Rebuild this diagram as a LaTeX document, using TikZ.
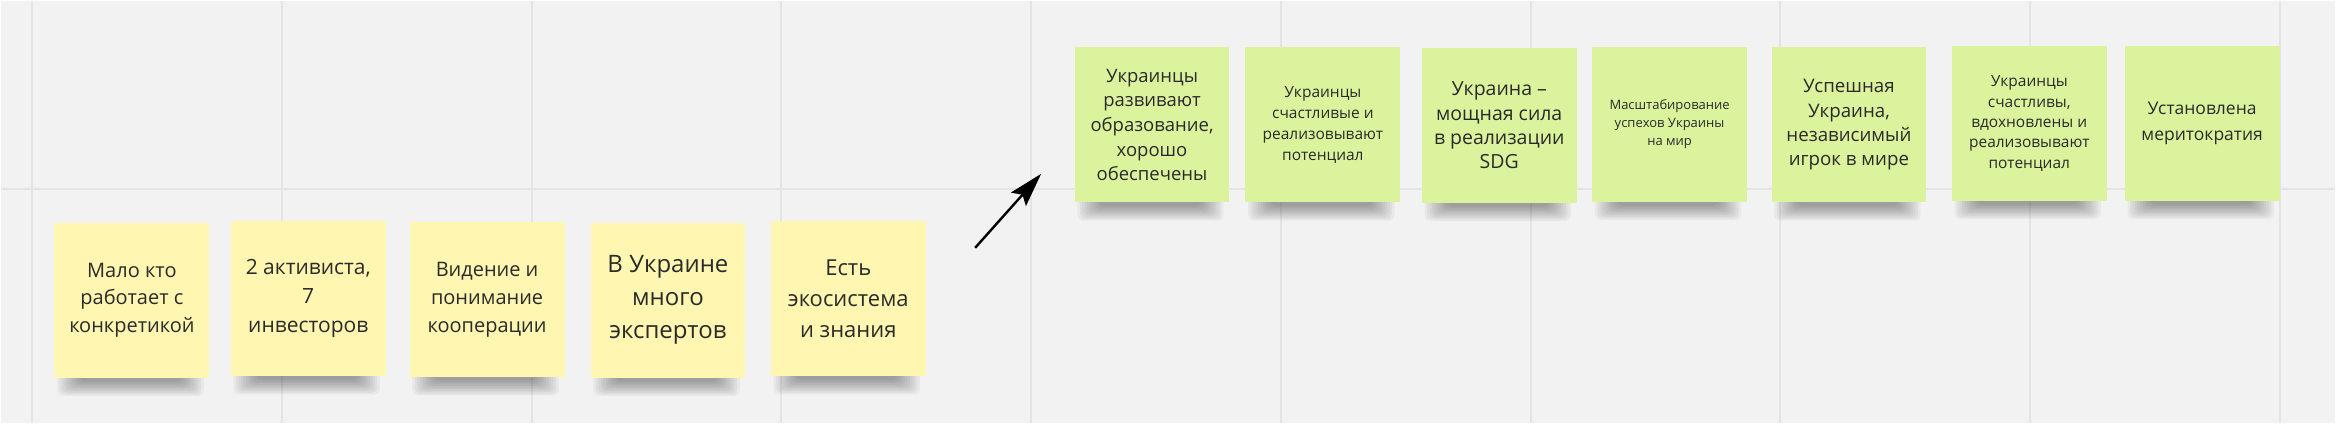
\documentclass[tikz,border=0pt]{standalone}
\usepackage{fontspec}
\setmainfont{Open Sans}
\usetikzlibrary{arrows.meta}
\definecolor{boardgray}{HTML}{F2F2F2}
\definecolor{gridgray}{HTML}{E4E4E4}
\definecolor{noteyellow}{HTML}{FEF6B1}
\definecolor{notegreen}{HTML}{DCF39D}
\definecolor{inkgray}{HTML}{2A2A2A}
\pgfdeclarelayer{board}
\pgfdeclarelayer{shadow}
\pgfsetlayers{board,shadow,main}
\tikzset{
  sticky/.style={minimum width=155pt, minimum height=155pt, inner sep=0pt, align=center, text=inkgray},
  yellownote/.style={sticky, fill=noteyellow},
  greennote/.style={sticky, fill=notegreen},
  fsize/.style 2 args={font=\fontsize{#1}{#2}\selectfont}
}
\begin{document}
\begin{tikzpicture}[x=1pt, y=-1pt]
\begin{pgfonlayer}{board}
\fill [boardgray] (0,0) rectangle (2336,422);
\foreach \gx in {31,281,...,2281}
  \draw [gridgray, line width=2pt] (\gx,0) -- (\gx,422);
\draw [gridgray, line width=2pt] (0,188) -- (2336,188);
\end{pgfonlayer}
\useasboundingbox (0,0) rectangle (2336,422);

\coordinate (Y1) at (131,299.5);
\coordinate (Y2) at (307.5,298);
\coordinate (Y3) at (486.5,299);
\coordinate (Y4) at (667.5,299.5);
\coordinate (Y5) at (848,298);
\coordinate (G1) at (1152,124);
\coordinate (G2) at (1323,124);
\coordinate (G3) at (1499.5,124.5);
\coordinate (G4) at (1670,123.5);
\coordinate (G5) at (1849.5,124);
\coordinate (G6) at (2030,122.5);
\coordinate (G7) at (2203,122.5);

\node [yellownote, fsize={20}{28}] (malo) at (Y1) {Мало кто\\работает с\\конкретикой};
\node [yellownote, fsize={21}{29}] (aktiv) at (Y2) {2 активиста,\\7\\инвесторов};
\node [yellownote, fsize={20}{28}] (videnie) at (Y3) {Видение и\\понимание\\кооперации};
\node [yellownote, fsize={24}{33}] (experty) at (Y4) {В Украине\\много\\экспертов};
\node [yellownote, fsize={22}{31}] (ekosys) at (Y5) {Есть\\экосистема\\и знания};

\node [greennote, fsize={18.5}{24.7}] (obraz) at (G1) {Украинцы\\развивают\\образование,\\хорошо\\обеспечены};
\node [greennote, fsize={15.5}{21}] (schast) at (G2) {Украинцы\\счастливые и\\реализовывают\\потенциал};
\node [greennote, fsize={19.5}{24.4}] (sila) at (G3) {Украина –\\мощная сила\\в реализации\\SDG};
\node [greennote, fsize={13}{18}] (masht) at (G4) {Масштабирование\\успехов Украины\\на мир};
\node [greennote, fsize={18.7}{24.4}] (igrok) at (G5) {Успешная\\Украина,\\независимый\\игрок в мире};
\node [greennote, fsize={15.5}{20.3}] (vdohn) at (G6) {Украинцы\\счастливы,\\вдохновлены и\\реализовывают\\потенциал};
\node [greennote, fsize={17.5}{26}] (merit) at (G7) {Установлена\\меритократия};

% soft shadow under each sticky
\begin{pgfonlayer}{shadow}
\foreach \n in {malo,aktiv,videnie,experty,ekosys,obraz,schast,sila,masht,igrok,vdohn,merit}
  \foreach \i in {0,...,9}
    \fill [black, opacity=.04, rounded corners=5pt]
      ([shift={(3+2.5*\i,-6)}]\n.south west) rectangle ([shift={(-6-2.5*\i,18-1.6*\i)}]\n.south east);
\end{pgfonlayer}

\coordinate (arrtail) at (975,247);
\coordinate (arrtip) at (1041,173);
\draw [line width=2.4pt, -{Stealth[length=34pt, width=20pt, inset=6pt]}] (arrtail) -- (arrtip);

\end{tikzpicture}
\end{document}
